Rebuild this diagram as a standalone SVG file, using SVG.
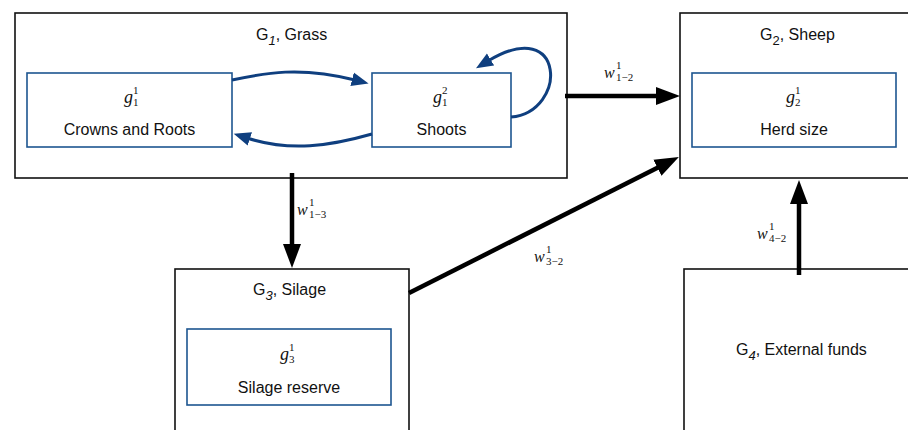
<svg xmlns="http://www.w3.org/2000/svg" width="908" height="430" viewBox="0 0 908 430">
<style>
.outer{fill:#fff;stroke:#111;stroke-width:1.6}
.inner{fill:#fff;stroke:#1d5590;stroke-width:1.6}
.t{font-family:"Liberation Sans",Arial,sans-serif;font-size:16px;fill:#111}
.m{font-family:"Liberation Serif","Times New Roman",serif;font-style:italic;font-size:18px;fill:#111}
.s{font-family:"Liberation Serif","Times New Roman",serif;font-size:11px;fill:#111}
.blk{stroke:#000;stroke-width:4.5;fill:none}
.blu{stroke:#0f3f7f;stroke-width:3;fill:none}
</style>
<defs>
<marker id="ah" markerUnits="userSpaceOnUse" markerWidth="26" markerHeight="20" refX="4" refY="10" orient="auto">
<path d="M0,1 L24,10 L0,19 z" fill="#000"/>
</marker>
<marker id="bh" markerUnits="userSpaceOnUse" markerWidth="18" markerHeight="16" refX="3" refY="8" orient="auto">
<path d="M0,1 L17,8 L0,15 z" fill="#0f3f7f"/>
</marker>
</defs>

<g id="G1">
<rect class="outer" x="15" y="13" width="552" height="165"/>
<text class="t" x="256" y="40">G<tspan dy="5" font-size="13" font-style="italic">1</tspan><tspan dy="-5">, Grass</tspan></text>
</g>
<g id="g1_1">
<rect class="inner" x="27" y="73" width="205" height="74"/>
<text class="m" x="124" y="103">g</text>
<text class="s" x="133" y="94">1</text>
<text class="s" x="133" y="106">1</text>
<text class="t" x="129.5" y="135" text-anchor="middle">Crowns and Roots</text>
</g>
<g id="g1_2">
<rect class="inner" x="372" y="73" width="139" height="74"/>
<text class="m" x="433" y="103">g</text>
<text class="s" x="442" y="94">2</text>
<text class="s" x="442" y="106">1</text>
<text class="t" x="441.5" y="135" text-anchor="middle">Shoots</text>
</g>

<g id="G2">
<rect class="outer" x="680" y="13" width="240" height="165"/>
<text class="t" x="760" y="40">G<tspan dy="5" font-size="13">2</tspan><tspan dy="-5">, Sheep</tspan></text>
</g>
<g id="g2_1">
<rect class="inner" x="692" y="73" width="204" height="74"/>
<text class="m" x="786" y="103">g</text>
<text class="s" x="795" y="94">1</text>
<text class="s" x="795" y="106">2</text>
<text class="t" x="794" y="135" text-anchor="middle">Herd size</text>
</g>

<g id="G3">
<rect class="outer" x="175" y="269" width="234" height="180"/>
<text class="t" x="253" y="295">G<tspan dy="5" font-size="13" font-style="italic">3</tspan><tspan dy="-5">, Silage</tspan></text>
</g>
<g id="g3_1">
<rect class="inner" x="187" y="329" width="204" height="76"/>
<text class="m" x="280" y="360">g</text>
<text class="s" x="289" y="351">1</text>
<text class="s" x="289" y="363">3</text>
<text class="t" x="289" y="393" text-anchor="middle">Silage reserve</text>
</g>

<g id="G4">
<rect class="outer" x="684" y="269" width="240" height="180"/>
<text class="t" x="736" y="355">G<tspan dy="5" font-size="13" font-style="italic">4</tspan><tspan dy="-5">, External funds</tspan></text>
</g>

<g id="connectors">
<path class="blu" d="M232,80 C265,73 300,66 355,80" marker-end="url(#bh)"/>
<path class="blu" d="M372,134 C330,146 290,152 247,138" marker-end="url(#bh)"/>
<path class="blu" d="M511,117 C568,112 566,14 488,61" marker-end="url(#bh)"/>
<line class="blk" x1="565" y1="96" x2="660" y2="96" marker-end="url(#ah)"/>
<line class="blk" x1="292" y1="173" x2="292" y2="248" marker-end="url(#ah)"/>
<line class="blk" x1="409" y1="293" x2="661" y2="166" marker-end="url(#ah)"/>
<line class="blk" x1="799" y1="275" x2="799" y2="200" marker-end="url(#ah)"/>
</g>

<g id="labels">
<text class="m" x="604" y="78" style="font-size:16px">w</text>
<text class="s" x="616" y="69">1</text>
<text class="s" x="616" y="81">1−2</text>
<text class="m" x="297" y="215" style="font-size:16px">w</text>
<text class="s" x="309" y="206">1</text>
<text class="s" x="309" y="218">1−3</text>
<text class="m" x="534" y="262" style="font-size:16px">w</text>
<text class="s" x="546" y="253">1</text>
<text class="s" x="546" y="265">3−2</text>
<text class="m" x="757" y="239" style="font-size:16px">w</text>
<text class="s" x="769" y="230">1</text>
<text class="s" x="769" y="242">4−2</text>
</g>
</svg>
